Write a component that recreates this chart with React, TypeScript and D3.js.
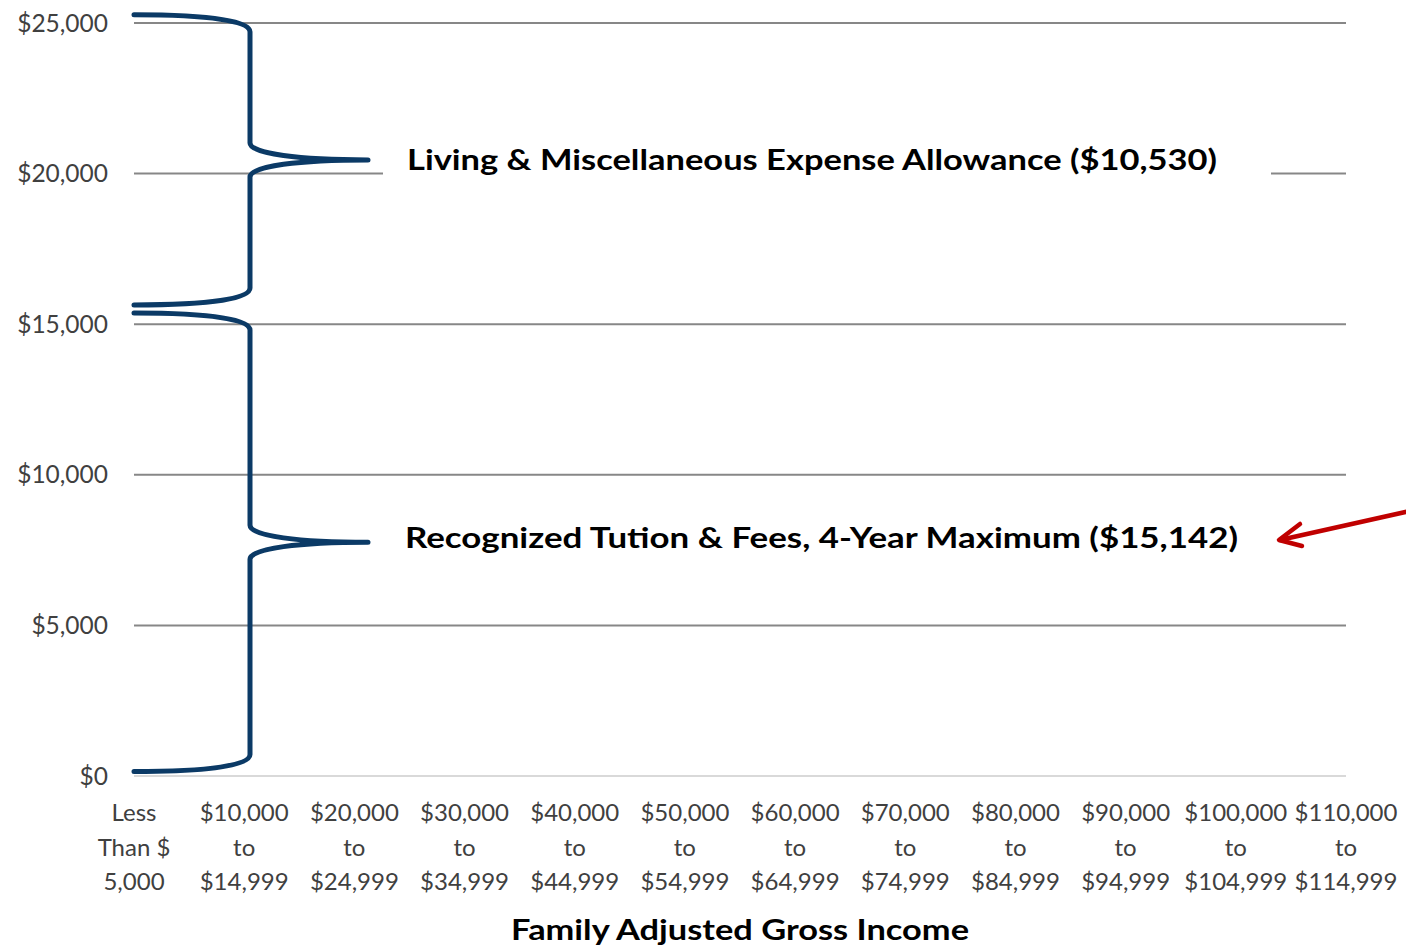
import React from "react";
import * as d3 from "d3";

const categories: string[][] = [
  ["Less", "Than $", "5,000"],
  ["$10,000", "to", "$14,999"],
  ["$20,000", "to", "$24,999"],
  ["$30,000", "to", "$34,999"],
  ["$40,000", "to", "$44,999"],
  ["$50,000", "to", "$54,999"],
  ["$60,000", "to", "$64,999"],
  ["$70,000", "to", "$74,999"],
  ["$80,000", "to", "$84,999"],
  ["$90,000", "to", "$94,999"],
  ["$100,000", "to", "$104,999"],
  ["$110,000", "to", "$114,999"],
];
const yTicks = [0, 5000, 10000, 15000, 20000, 25000];
const braceLabels = [
  "Recognized Tution & Fees, 4-Year Maximum ($15,142)",
  "Living & Miscellaneous Expense Allowance ($10,530)",
];
const braceBottoms = [150, 15640];
const braceTops = [15370, 25270];
const axisTitle = "Family Adjusted Gross Income";

const W = 1406;
const H = 946;
const FONT = "Lato, 'Noto Sans', sans-serif";

export default function App() {
  const keys = categories.map((c) => c.join(" "));
  const x = d3.scalePoint<string>().domain(keys).range([134, 1346]).padding(0);
  const y = d3.scaleLinear().domain([0, 25000]).range([776, 23]);
  const fmt = (v: number) => "$" + d3.format(",")(v);

  const x0 = x(keys[0])!;
  const xv = 250;
  const xt = 368;
  const bracePath = (b: number, t: number) => {
    const yB = y(b);
    const yT = y(t);
    const yM = (yB + yT) / 2;
    const p = d3.path();
    p.moveTo(x0, yT);
    p.bezierCurveTo(xv - 40, yT, xv, yT + 6, xv, yT + 17);
    p.lineTo(xv, yM - 17);
    p.bezierCurveTo(xv, yM - 6, xv + 50, yM, xt, yM);
    p.bezierCurveTo(xv + 50, yM, xv, yM + 6, xv, yM + 17);
    p.lineTo(xv, yB - 17);
    p.bezierCurveTo(xv, yB - 6, xv - 40, yB, x0, yB);
    return p.toString();
  };

  const labelX = [405, 407];
  const labelLen = [833, 810];
  const labelShift = [-5, 0];

  return (
    <div style={{ position: "fixed", left: 0, top: 0 }}>
      <svg width={W} height={H} style={{ display: "block", background: "#fff" }}>
        {/* gridlines */}
        {yTicks.map((t) => (
          <line
            key={"g" + t}
            x1={134}
            x2={1346}
            y1={y(t)}
            y2={y(t)}
            stroke={t === 0 ? "#d9d9d9" : "#878787"}
            strokeWidth={2}
          />
        ))}
        {/* y tick labels */}
        {yTicks.map((t) => (
          <text
            key={"yl" + t}
            x={108}
            y={y(t)}
            dy="0.35em"
            textAnchor="end"
            fontFamily={FONT}
            fontSize={24.5}
            fill="#404040"
          >
            {fmt(t)}
          </text>
        ))}
        {/* x tick labels */}
        {categories.map((c, i) => (
          <text
            key={"xl" + i}
            textAnchor="middle"
            fontFamily={FONT}
            fontSize={24}
            fill="#404040"
          >
            {c.map((line, j) => (
              <tspan key={j} x={x(keys[i])!} y={821 + j * 34.5}>
                {line}
              </tspan>
            ))}
          </text>
        ))}
        {/* label backgrounds + labels */}
        {braceLabels.map((lab, i) => {
          const yM = (y(braceBottoms[i]) + y(braceTops[i])) / 2;
          return (
            <g key={"lab" + i}>
              <rect x={383} y={yM - 20} width={1271 - 383} height={40} fill="#fff" />
              <text
                x={labelX[i]}
                y={yM + labelShift[i]}
                dy="0.36em"
                fontFamily={FONT}
                fontWeight="bold"
                fontSize={29}
                fill="#000"
                textLength={labelLen[i]}
                lengthAdjust="spacingAndGlyphs"
              >
                {lab}
              </text>
            </g>
          );
        })}
        {/* braces */}
        {braceLabels.map((_, i) => (
          <path
            key={"br" + i}
            d={bracePath(braceBottoms[i], braceTops[i])}
            fill="none"
            stroke="#0b3a66"
            strokeWidth={5}
            strokeLinecap="round"
            strokeLinejoin="round"
          />
        ))}
        {/* red arrow */}
        <g stroke="#c00000" strokeWidth={4.5} fill="none" strokeLinecap="round" strokeLinejoin="round">
          <line x1={1410} y1={511} x2={1280} y2={540} />
          <polyline points="1300,524 1279,540 1302,546" />
        </g>
        {/* axis title */}
        <text
          x={740}
          y={940}
          textAnchor="middle"
          fontFamily={FONT}
          fontWeight="bold"
          fontSize={29}
          fill="#000"
          textLength={458}
          lengthAdjust="spacingAndGlyphs"
        >
          {axisTitle}
        </text>
      </svg>
    </div>
  );
}
